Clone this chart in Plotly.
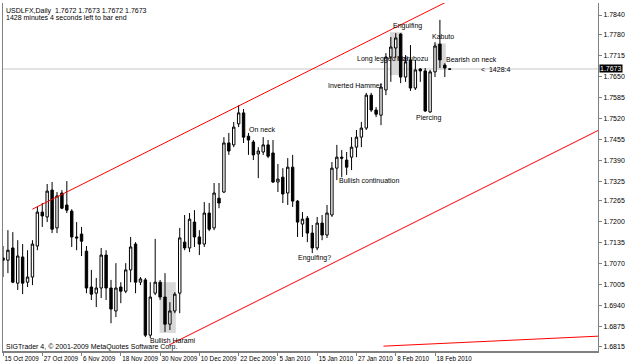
import plotly.graph_objects as go

# ---------------- data ----------------
date_labels = ["15 Oct 2009", "27 Oct 2009", "6 Nov 2009", "18 Nov 2009", "30 Nov 2009",
               "10 Dec 2009", "22 Dec 2009", "5 Jan 2010", "15 Jan 2010", "27 Jan 2010",
               "8 Feb 2010", "18 Feb 2010"]

opens = [1.7088, 1.7081, 1.7119, 1.7010, 1.7091, 1.7013, 1.7029, 1.7125, 1.7230, 1.7215,
         1.7298, 1.7181, 1.7289, 1.7252, 1.7233, 1.7153, 1.7162, 1.7109, 1.6998, 1.6979,
         1.6995, 1.7097, 1.6995, 1.6924, 1.6998, 1.6985, 1.7051, 1.7131, 1.7013, 1.7020,
         1.6849, 1.6979, 1.7013, 1.6967, 1.6883, 1.6924, 1.6979, 1.7137, 1.7119, 1.7199,
         1.7153, 1.7131, 1.7227, 1.7181, 1.7273, 1.7292, 1.7444, 1.7438, 1.7503, 1.7537,
         1.7465, 1.7447, 1.7410, 1.7416, 1.7438, 1.7413, 1.7323, 1.7338, 1.7289, 1.7369,
         1.7264, 1.7193, 1.7211, 1.7165, 1.7119, 1.7196, 1.7159, 1.7221, 1.7366, 1.7400,
         1.7391, 1.7400, 1.7431, 1.7462, 1.7490, 1.7592, 1.7546, 1.7530, 1.7608, 1.7710,
         1.7738, 1.7781, 1.7648, 1.7701, 1.7614, 1.7673, 1.7667, 1.7540, 1.7664, 1.7750,
         1.7685, 1.7672]
highs = [1.7125, 1.7174, 1.7168, 1.7143, 1.7131, 1.7112, 1.7143, 1.7246, 1.7258, 1.7317,
         1.7323, 1.7292, 1.7298, 1.7326, 1.7239, 1.7199, 1.7184, 1.7125, 1.7051, 1.7026,
         1.7119, 1.7112, 1.7020, 1.7072, 1.7013, 1.7072, 1.7153, 1.7137, 1.7029, 1.7026,
         1.7013, 1.7147, 1.7020, 1.7041, 1.6951, 1.6982, 1.7181, 1.7221, 1.7227, 1.7236,
         1.7174, 1.7261, 1.7258, 1.7320, 1.7320, 1.7462, 1.7475, 1.7509, 1.7561, 1.7549,
         1.7475, 1.7453, 1.7431, 1.7462, 1.7453, 1.7453, 1.7379, 1.7366, 1.7397, 1.7407,
         1.7267, 1.7230, 1.7218, 1.7190, 1.7215, 1.7221, 1.7252, 1.7385, 1.7438, 1.7422,
         1.7416, 1.7462, 1.7484, 1.7509, 1.7599, 1.7599, 1.7555, 1.7629, 1.7722, 1.7772,
         1.7784, 1.7784, 1.7716, 1.7747, 1.7701, 1.7676, 1.7676, 1.7670, 1.7756, 1.7825,
         1.7691, 1.7673]
lows = [1.7029, 1.7041, 1.7010, 1.6989, 1.6976, 1.6998, 1.7004, 1.7112, 1.7184, 1.7199,
        1.7165, 1.7165, 1.7239, 1.7227, 1.7122, 1.7112, 1.7094, 1.6979, 1.6958, 1.6936,
        1.6964, 1.6958, 1.6886, 1.6905, 1.6948, 1.6979, 1.7013, 1.6979, 1.7004, 1.6843,
        1.6840, 1.6973, 1.6958, 1.6859, 1.6865, 1.6917, 1.6917, 1.7112, 1.7106, 1.7122,
        1.7097, 1.7122, 1.7171, 1.7174, 1.7242, 1.7289, 1.7407, 1.7431, 1.7493, 1.7444,
        1.7407, 1.7391, 1.7335, 1.7407, 1.7397, 1.7320, 1.7292, 1.7258, 1.7252, 1.7246,
        1.7153, 1.7153, 1.7137, 1.7103, 1.7112, 1.7143, 1.7150, 1.7215, 1.7329, 1.7338,
        1.7345, 1.7360, 1.7400, 1.7431, 1.7484, 1.7540, 1.7524, 1.7499, 1.7592, 1.7633,
        1.7707, 1.7629, 1.7633, 1.7605, 1.7608, 1.7633, 1.7540, 1.7537, 1.7648, 1.7676,
        1.7648, 1.7672]
closes = [1.7081, 1.7112, 1.7013, 1.7094, 1.7010, 1.7029, 1.7131, 1.7230, 1.7218, 1.7295,
          1.7177, 1.7280, 1.7242, 1.7236, 1.7153, 1.7150, 1.7140, 1.6995, 1.6976, 1.6995,
          1.7097, 1.6995, 1.6930, 1.6995, 1.6985, 1.7051, 1.7122, 1.7013, 1.7023, 1.6849,
          1.6967, 1.7013, 1.6967, 1.6883, 1.6924, 1.6976, 1.7150, 1.7119, 1.7208, 1.7153,
          1.7131, 1.7227, 1.7177, 1.7289, 1.7258, 1.7444, 1.7419, 1.7493, 1.7537, 1.7462,
          1.7453, 1.7407, 1.7419, 1.7438, 1.7403, 1.7323, 1.7332, 1.7286, 1.7369, 1.7264,
          1.7199, 1.7208, 1.7165, 1.7119, 1.7196, 1.7159, 1.7227, 1.7366, 1.7400, 1.7397,
          1.7369, 1.7431, 1.7462, 1.7490, 1.7592, 1.7546, 1.7533, 1.7617, 1.7710, 1.7741,
          1.7769, 1.7648, 1.7695, 1.7614, 1.7670, 1.7667, 1.7543, 1.7664, 1.7744, 1.7701,
          1.7676, 1.7673]

price_ticks = [1.7840, 1.7780, 1.7715, 1.7650, 1.7585, 1.7520, 1.7455, 1.7390, 1.7325,
               1.7265, 1.7200, 1.7135, 1.7070, 1.7005, 1.6940, 1.6875, 1.6815]
bid = 1.7673

# pattern labels: (text, bar index, price)
pattern_labels = [
    ("On neck", 49.6, 1.7486),
    ("Inverted Hammer", 65.7, 1.7623),
    ("Long legged doji", 71.6, 1.7704),
    ("Marubozu", 79.8, 1.7704),
    ("Engulfing", 79.0, 1.7807),
    ("Kabuto", 86.9, 1.7775),
    ("Bearish on neck", 89.9, 1.7703),
    ("Piercing", 83.8, 1.7521),
    ("Bullish continuation", 68.1, 1.7327),
    ("Engulfing?", 59.6, 1.7088),
    ("Bullish Harami", 29.5, 1.6834),
]
# highlight boxes: (x0, x1, y0, y1) in bar index / price
boxes = [(31.9, 35.2, 1.6856, 1.7013), (78.8, 81.4, 1.7654, 1.7787), (87.7, 90.2, 1.7670, 1.7752)]
# trend lines: (x0, y0, x1, y1)
trend_lines = [(5.99, 1.7239, 121.4, 1.8117), (33.75, 1.6818, 121.4, 1.7484), (77.5, 1.6815, 121.4, 1.6846)]

idx = list(range(len(opens)))

fig = go.Figure()
for (x0, x1, y0, y1) in boxes:
    fig.add_shape(type="rect", xref="x", yref="y", x0=x0, x1=x1, y0=y0, y1=y1,
                  fillcolor="#d8d8d8", line=dict(width=0), layer="below")

fig.add_hline(y=bid, line=dict(color="#c8c8c8", width=1), layer="below")

fig.add_trace(go.Candlestick(
    x=idx, open=opens, high=highs, low=lows, close=closes,
    increasing=dict(line=dict(color="#000000", width=1), fillcolor="#ffffff"),
    decreasing=dict(line=dict(color="#000000", width=1), fillcolor="#000000"),
    whiskerwidth=0, showlegend=False, hoverinfo="skip"))

for (x0, y0, x1, y1) in trend_lines:
    fig.add_trace(go.Scatter(x=[x0, x1], y=[y0, y1], mode="lines",
                             line=dict(color="#ff0000", width=1), showlegend=False, hoverinfo="skip"))

font = dict(family="Liberation Sans, Arial", size=7, color="#000000")
for (t, x, y) in pattern_labels:
    fig.add_annotation(x=x, y=y, text=t, showarrow=False, xanchor="left", yanchor="middle", font=font)

fig.add_annotation(x=96.9, y=bid, text="<  1428:4", showarrow=False, xanchor="left", yanchor="middle",
                   yshift=-1, font=font)
fig.add_annotation(xref="paper", yref="paper", x=0.002, y=0.995, text="USDLFX,Daily  1.7672 1.7673 1.7672 1.7673",
                   showarrow=False, xanchor="left", yanchor="top", font=font)
fig.add_annotation(xref="paper", yref="paper", x=0.002, y=0.973, text="1428 minutes 4 seconds left to bar end",
                   showarrow=False, xanchor="left", yanchor="top", font=font)
fig.add_annotation(xref="paper", yref="paper", x=0.002, y=0.011, text="SIGTrader 4, © 2001-2009 MetaQuotes Software Corp.",
                   showarrow=False, xanchor="left", yanchor="middle", font=font)
fig.add_annotation(xref="paper", yref="y", x=1.0, y=bid, text="1.7673", showarrow=False, xanchor="left",
                   yanchor="middle", xshift=1, bgcolor="#000000",
                   font=dict(family="Liberation Sans, Arial", size=7, color="#ffffff"), borderpad=0)

fig.update_layout(
    width=625, height=364,
    margin=dict(l=3, r=27, t=3, b=13, autoexpand=False),
    paper_bgcolor="#ffffff", plot_bgcolor="#ffffff",
    font=font,
    xaxis=dict(range=[0.0, 121.2], tickvals=list(range(0, 89, 8)), ticktext=date_labels,
               ticks="outside", ticklen=3, tickcolor="#808080", ticklabelposition="outside right",
               tickangle=0, automargin=False,
               showgrid=False, zeroline=False, showline=True, linecolor="#808080", linewidth=2,
               rangeslider=dict(visible=False), fixedrange=True,
               tickfont=dict(family="Liberation Sans, Arial", size=6.3, color="#000000")),
    yaxis=dict(range=[1.6800, 1.78772], side="right", tickvals=price_ticks, automargin=False,
               ticktext=[f"{v:.4f}" for v in price_ticks], ticks="outside", ticklen=3,
               tickcolor="#808080", showgrid=False, zeroline=False, showline=True,
               linecolor="#808080", mirror=True, tickfont=font),
)

fig.write_html("out.html")
